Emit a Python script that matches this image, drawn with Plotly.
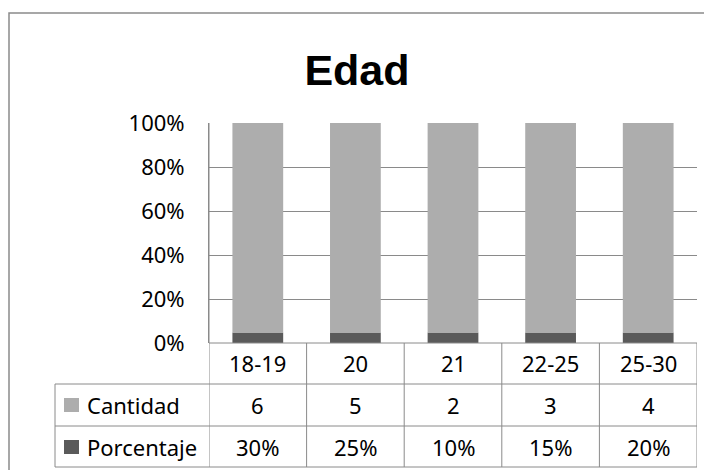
import plotly.graph_objects as go

# ----------------------- Data -----------------------
categorias = ['18-19', '20', '21', '22-25', '25-30']
cantidad = [6, 5, 2, 3, 4]
porcentaje = [0.30, 0.25, 0.10, 0.15, 0.20]
porcentaje_txt = ['30%', '25%', '10%', '15%', '20%']
y_ticks = [0, 20, 40, 60, 80, 100]

# page body has an 8px margin, so the figure is drawn 8px smaller and shifted
OFF = 8
W, H = 712 - OFF, 470 - OFF
FONT = 'Noto Sans'
LINE = '#8a8a8a'
LIGHT = '#adadad'
DARK = '#5a5a5a'


def py(p):
    # screen pixel y -> paper y
    return 1 - (p - OFF) / H


def px_x(p):
    return (p - OFF) / W


fig = go.Figure()
fig.add_trace(go.Bar(x=list(range(len(categorias))), y=porcentaje, name='Porcentaje',
                     marker=dict(color=DARK, line=dict(width=0))))
fig.add_trace(go.Bar(x=list(range(len(categorias))), y=cantidad, name='Cantidad',
                     marker=dict(color=LIGHT, line=dict(width=0))))

# ----------------------- Table (lines) -----------------------
shapes = []
# outer chart border
shapes.append(dict(type='rect', xref='paper', yref='paper', x0=px_x(9), x1=px_x(730),
                   y0=py(490), y1=py(13), line=dict(color=LINE, width=1.5)))
# horizontal table lines
shapes.append(dict(type='line', xref='paper', yref='paper', x0=px_x(209), x1=px_x(697),
                   y0=py(343), y1=py(343), line=dict(color=LINE, width=1)))
for yy in [384, 426, 467]:
    shapes.append(dict(type='line', xref='paper', yref='paper', x0=px_x(55), x1=px_x(697),
                       y0=py(yy), y1=py(yy), line=dict(color=LINE, width=1)))
# vertical table lines
shapes.append(dict(type='line', xref='paper', yref='paper', x0=px_x(55), x1=px_x(55),
                   y0=py(384), y1=py(467), line=dict(color=LINE, width=1)))
for i in range(len(categorias) + 1):
    top = 123 if i == 0 else 343
    shapes.append(dict(type='line', xref='x', yref='paper', x0=i - 0.5, x1=i - 0.5,
                       y0=py(top), y1=py(467), line=dict(color=LINE, width=1)))
# legend keys
shapes.append(dict(type='rect', xref='paper', yref='paper', x0=px_x(64), x1=px_x(79),
                   y0=py(412), y1=py(398), fillcolor=LIGHT, line=dict(width=0)))
shapes.append(dict(type='rect', xref='paper', yref='paper', x0=px_x(64), x1=px_x(79),
                   y0=py(454), y1=py(440), fillcolor=DARK, line=dict(width=0)))

# ----------------------- Table (text) -----------------------
ann = []
tf = dict(family=FONT, size=22, color='#000000')
for i, c in enumerate(categorias):
    ann.append(dict(x=i, y=py(363), xref='x', yref='paper', text=c, showarrow=False,
                    yanchor='middle', font=tf))
    ann.append(dict(x=i, y=py(405), xref='x', yref='paper', text=str(cantidad[i]),
                    showarrow=False, yanchor='middle', font=tf))
    ann.append(dict(x=i, y=py(447), xref='x', yref='paper', text=porcentaje_txt[i],
                    showarrow=False, yanchor='middle', font=tf))
ann.append(dict(x=px_x(85), y=py(405), xref='paper', yref='paper', text='Cantidad',
                showarrow=False, xanchor='left', yanchor='middle', font=tf))
ann.append(dict(x=px_x(85), y=py(447), xref='paper', yref='paper', text='Porcentaje',
                showarrow=False, xanchor='left', yanchor='middle', font=tf))

fig.update_layout(
    width=W, height=H,
    margin=dict(l=0, r=0, t=0, b=0, pad=0, autoexpand=False),
    paper_bgcolor='white', plot_bgcolor='white',
    barmode='relative', barnorm='percent', bargap=0.48,
    showlegend=False,
    title=dict(text='<b>Edad</b>', x=px_x(357), xanchor='center', y=py(70), yanchor='middle',
               font=dict(family='Liberation Sans', size=43, color='#000000')),
    xaxis=dict(domain=[px_x(209), px_x(697)], range=[-0.5, len(categorias) - 0.5],
               showticklabels=False, showgrid=False, zeroline=False, showline=False,
               automargin=False),
    yaxis=dict(domain=[py(343), py(123)], range=[0, 100], tickvals=y_ticks,
               ticktext=[f'{v}%' for v in y_ticks], showgrid=True, gridcolor=LINE,
               gridwidth=1, zeroline=False, showline=True, linecolor=LINE,
               ticks='', ticklabelstandoff=19, automargin=False,
               tickfont=dict(family=FONT, size=22, color='#000000')),
    shapes=shapes,
    annotations=ann,
)

fig.write_html("out.html")
